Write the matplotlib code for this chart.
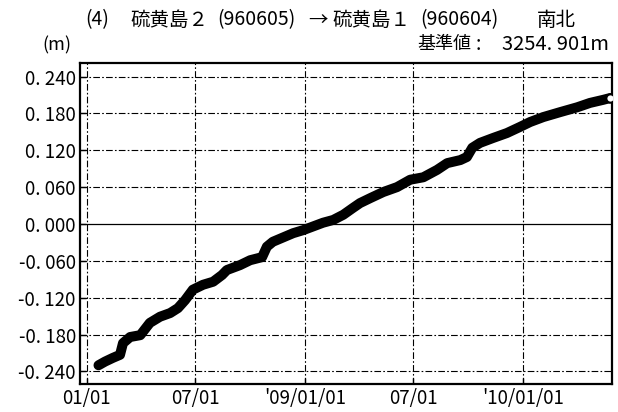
import datetime as dt
import matplotlib
matplotlib.use("Agg")
import matplotlib.pyplot as plt

plt.rcParams['font.family'] = ['Noto Sans CJK JP', 'DejaVu Sans']

# baseline change, south-north component (m)
dates = [
    "2008-01-21", "2008-02-01", "2008-02-14", "2008-02-26", "2008-03-02",
    "2008-03-14", "2008-03-31", "2008-04-16", "2008-05-03", "2008-05-20",
    "2008-06-02", "2008-06-14", "2008-06-27", "2008-07-14", "2008-07-31",
    "2008-08-15", "2008-08-23", "2008-09-14", "2008-10-01", "2008-10-21",
    "2008-10-29", "2008-11-08", "2008-12-12", "2008-12-29", "2009-01-31",
    "2009-02-17", "2009-03-06", "2009-03-22", "2009-04-03", "2009-04-20",
    "2009-05-12", "2009-06-04", "2009-06-26", "2009-07-18", "2009-08-10",
    "2009-08-27", "2009-09-18", "2009-09-29", "2009-10-08", "2009-10-21",
    "2009-11-12", "2009-12-05", "2009-12-27", "2010-01-13", "2010-02-04",
    "2010-03-04", "2010-04-02", "2010-04-23", "2010-05-15", "2010-05-27",
]
values = [
    -0.230, -0.224, -0.218, -0.213, -0.194,
    -0.184, -0.181, -0.161, -0.151, -0.145,
    -0.137, -0.124, -0.107, -0.099, -0.094,
    -0.083, -0.075, -0.067, -0.059, -0.054,
    -0.037, -0.029, -0.015, -0.010, 0.002,
    0.0065, 0.015, 0.026, 0.034, 0.042,
    0.052, 0.060, 0.072, 0.076, 0.088,
    0.099, 0.104, 0.109, 0.124, 0.132,
    0.140, 0.148, 0.158, 0.166, 0.174,
    0.182, 0.190, 0.197, 0.202, 0.205,
]

xtick_dates = ["2008-01-01", "2008-07-01", "2009-01-01", "2009-07-01", "2010-01-01"]
xtick_labels = ["01/01", "07/01", "'09/01/01", "07/01", "'10/01/01"]
ytick_values = [0.240, 0.180, 0.120, 0.060, 0.000, -0.060, -0.120, -0.180, -0.240]
ytick_labels = ["0. 240", "0. 180", "0. 120", "0. 060", "0. 000",
                "-0. 060", "-0. 120", "-0. 180", "-0. 240"]

# title pieces and their left edges (px)
title_parts = ["(4)", "硫黄島２", "(960605)", "→", "硫黄島１", "(960604)", "南北"]
title_x = [85, 130, 217, 308, 332, 420, 537]

to_d = lambda s: dt.datetime.strptime(s, "%Y-%m-%d")

fig = plt.figure(figsize=(6.18, 4.12), dpi=100)
ax = fig.add_axes([80 / 618, 1 - 384 / 412, 532 / 618, 321 / 412])

xs = [to_d(d) for d in dates]
ax.plot(xs, values, color="black", lw=7.2,
        solid_capstyle="round", solid_joinstyle="round", zorder=3)
ax.plot(xs[-1:], values[-1:], "o", ms=6, mfc="white", mec="black", mew=1.5, zorder=4)

ax.set_xlim(to_d("2007-12-21"), to_d("2010-05-30"))
ax.set_ylim(-0.2605, 0.2620)

ax.set_xticks([to_d(d) for d in xtick_dates])
ax.set_xticklabels(xtick_labels)
ax.set_yticks(ytick_values)
ax.set_yticklabels(ytick_labels)
ax.tick_params(direction="in", length=4, width=1, labelsize=13.5, pad=3)
ax.tick_params(axis="y", pad=3)

dashdot = (0, (6, 2, 1.5, 2))
for d in xtick_dates:
    ax.axvline(to_d(d), color="black", lw=0.8, ls=dashdot, zorder=1)
for v in ytick_values:
    if v == 0:
        ax.axhline(v, color="black", lw=0.9, zorder=1)
    else:
        ax.axhline(v, color="black", lw=0.8, ls=dashdot, zorder=1)

for s in ax.spines.values():
    s.set_linewidth(1.6)

for txt, x in zip(title_parts, title_x):
    fig.text(x / 618, 1 - 20 / 412, txt, fontsize=14, va="center", ha="left")
fig.text(417 / 618, 1 - 44 / 412, "基準値", fontsize=13, va="center", ha="left")
fig.text(478 / 618, 1 - 44 / 412, ":", fontsize=14, va="center", ha="center")
fig.text(609 / 618, 1 - 44 / 412, "3254. 901m", fontsize=14.5, va="center", ha="right")
fig.text(42 / 618, 1 - 45 / 412, "(m)", fontsize=13, va="center", ha="left")

fig.savefig("out.png", dpi=100)
